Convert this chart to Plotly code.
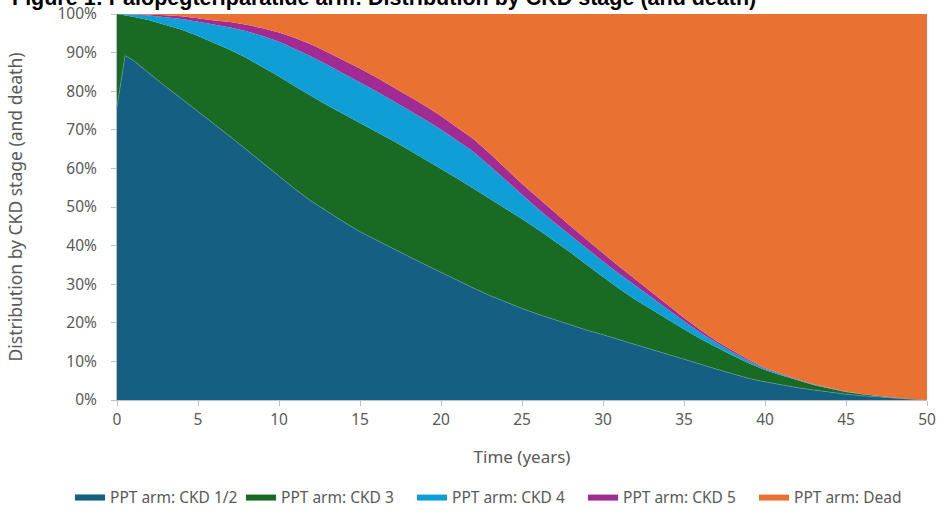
import plotly.graph_objects as go

# Time points (years)
time_years = [0, 0.5, 1, 2, 3, 4, 5, 6, 7, 8, 9, 10, 11, 12, 13, 14, 15, 16, 17, 18, 19,
              20, 21, 22, 23, 24, 25, 26, 27, 28, 29, 30, 31, 32, 33, 34, 35, 36, 37, 38,
              39, 40, 41, 42, 43, 44, 45, 46, 47, 48, 49, 50]

# Share of patients in each state (%)
ckd_1_2 = [76, 89.2, 88, 84.5, 81.2, 78, 74.8, 71.5, 68.2, 64.8, 61.4, 57.9, 54.6, 51.5, 48.7,
           46.1, 43.6, 41.4, 39.3, 37.2, 35.1, 33.0, 31.0, 29.0, 27.1, 25.3, 23.7, 22.2, 20.8,
           19.4, 18.1, 16.9, 15.6, 14.3, 13.0, 11.8, 10.6, 9.3, 8.0, 6.8, 5.6, 4.7, 3.9, 3.2,
           2.6, 2.0, 1.5, 1.1, 0.75, 0.45, 0.2, 0]
ckd_3 = [24, 10.5, 11.3, 13.9, 16.0, 17.9, 19.5, 21.1, 22.5, 23.8, 24.9, 25.9, 26.6, 27.2,
         27.6, 27.9, 28.2, 28.1, 27.9, 27.6, 27.3, 27.0, 26.4, 25.8, 25.1, 24.3, 23.2, 21.9,
         20.4, 18.8, 16.9, 14.9, 13.2, 11.7, 10.4, 9.0, 7.7, 6.6, 5.6, 4.7, 3.9, 3.1, 2.5,
         1.9, 1.3, 1.0, 0.6, 0.4, 0.2, 0.1, 0.05, 0]
ckd_4 = [0, 0.3, 0.6, 1.2, 2.0, 2.8, 3.7, 4.6, 5.8, 6.9, 8.0, 9.0, 9.8, 10.3, 10.5, 10.6,
         10.5, 10.5, 10.4, 10.4, 10.3, 10.1, 9.9, 9.5, 8.5, 7.3, 6.2, 5.4, 4.8, 4.4, 4.2,
         4.1, 3.9, 3.6, 3.1, 2.6, 2.1, 1.6, 1.2, 0.9, 0.6, 0.3, 0.2, 0.15, 0.1, 0.05, 0.05,
         0.02, 0.02, 0.01, 0, 0]
ckd_5 = [0, 0, 0.1, 0.3, 0.5, 0.7, 0.9, 1.1, 1.4, 1.7, 2.0, 2.4, 2.8, 3.1, 3.3, 3.5, 3.6,
         3.6, 3.6, 3.6, 3.6, 3.5, 3.4, 3.3, 3.2, 3.0, 2.9, 2.8, 2.6, 2.5, 2.3, 2.1, 1.9,
         1.7, 1.4, 1.1, 0.9, 0.7, 0.5, 0.4, 0.3, 0.2, 0.15, 0.1, 0.05, 0.05, 0.03, 0.02,
         0.01, 0, 0, 0]
dead = [0, 0, 0, 0.1, 0.3, 0.6, 1.1, 1.7, 2.1, 2.8, 3.7, 4.8, 6.2, 7.9, 9.9, 11.9, 14.1,
        16.4, 18.8, 21.2, 23.7, 26.4, 29.3, 32.4, 36.1, 40.1, 44.0, 47.7, 51.4, 54.9, 58.5,
        62.0, 65.4, 68.7, 72.1, 75.5, 78.7, 81.8, 84.7, 87.2, 89.6, 91.7, 93.25, 94.65,
        95.95, 96.9, 97.82, 98.46, 99.02, 99.44, 99.75, 100]

series_names = ["PPT arm: CKD 1/2", "PPT arm: CKD 3", "PPT arm: CKD 4",
                "PPT arm: CKD 5", "PPT arm: Dead"]
series_values = [ckd_1_2, ckd_3, ckd_4, ckd_5, dead]
series_colors = ["#156082", "#196B24", "#0F9ED5", "#A02B93", "#E97132"]

y_ticks = list(range(0, 101, 10))
y_tick_labels = [f"{v}%" for v in y_ticks]
x_ticks = list(range(0, 51, 5))

title_text = "Figure 1: Palopegteriparatide arm: Distribution by CKD stage (and death)"

fig = go.Figure()
for name, vals, col in zip(series_names, series_values, series_colors):
    is_first = name.endswith("1/2")
    fig.add_trace(go.Scatter(
        x=time_years, y=vals, name=name, mode="lines",
        stackgroup="one", fillcolor=col,
        line=dict(color="#5a9aa8" if is_first else col, width=0.6 if is_first else 0),
        hoverinfo="x+y+name",
    ))

FONT = "Noto Sans, Open Sans, sans-serif"
GREY = "#595959"
tick_font = dict(family=FONT, size=15.5, color=GREY)

fig.add_annotation(
    text=f"<b>{title_text}</b>", showarrow=False,
    xref="paper", yref="paper", x=-0.132, y=1.0, xanchor="left", yanchor="bottom",
    yshift=2,
    font=dict(family="Liberation Sans, Arial, sans-serif", size=21.5, color="black"),
)

fig.update_layout(
    width=939, height=522,
    margin=dict(l=117, r=12, t=14, b=122, autoexpand=False),
    paper_bgcolor="white", plot_bgcolor="white",
    xaxis=dict(
        range=[0, 50], tickvals=x_ticks, ticks="outside", ticklen=5,
        tickcolor="#BFBFBF", showline=True, linecolor="#BFBFBF", linewidth=1,
        showgrid=False, zeroline=False, tickfont=tick_font, automargin=False,
        ticklabeloverflow="allow",
        title=dict(text="Time (years)", font=dict(family=FONT, size=17, color=GREY),
                   standoff=22),
    ),
    yaxis=dict(
        range=[0, 100], tickvals=y_ticks, ticktext=y_tick_labels, ticks="outside", ticklen=5,
        tickcolor="#BFBFBF", showline=True, linecolor="#BFBFBF", linewidth=1,
        showgrid=False, zeroline=False, tickfont=tick_font, automargin=False,
        ticklabelstandoff=11, ticklabeloverflow="allow",
        title=dict(text="Distribution by CKD stage (and death)",
                   font=dict(family=FONT, size=17.5, color=GREY),
                   standoff=30),
    ),
    legend=dict(
        orientation="h", x=-0.058, xanchor="left",
        y=-0.2513, yanchor="middle",
        font=dict(family=FONT, size=15.5, color=GREY),
        itemwidth=30, entrywidth=126, traceorder="normal",
    ),
    showlegend=True,
)

# Remove the default page margin so the figure fills the window exactly.
fig.write_html(
    "out.html",
    config={"displayModeBar": False},
    post_script="document.body.style.margin='0';document.body.style.overflow='hidden';",
)
